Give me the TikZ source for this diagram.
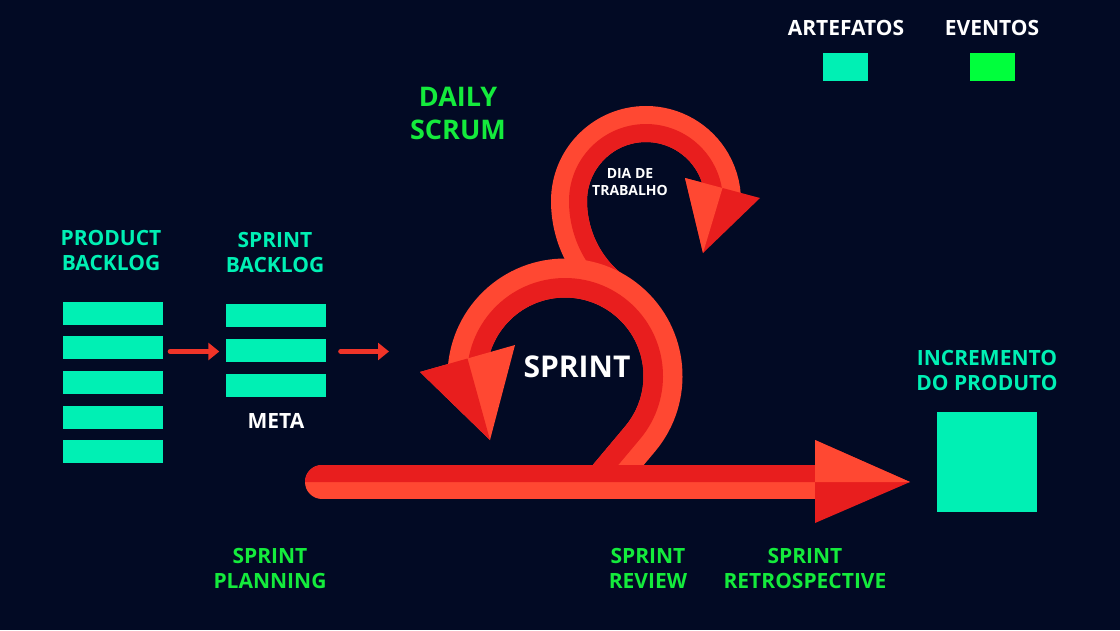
\documentclass[tikz,border=0pt]{standalone}
\usepackage{fontspec}
\setmainfont{Open Sans}
\usepackage{tikz}
\usetikzlibrary{calc,arrows.meta,positioning}
\definecolor{bgnavy}{RGB}{2,10,36}
\definecolor{artteal}{RGB}{0,240,180}
\definecolor{evgreen}{RGB}{20,235,60}
\definecolor{evbox}{RGB}{0,255,60}
\definecolor{redlight}{RGB}{255,72,50}
\definecolor{reddark}{RGB}{232,30,30}
\definecolor{redarrow}{RGB}{240,52,40}

\begin{document}
\begin{tikzpicture}[x=1pt,y=1pt,yscale=-1,
      lbl/.style={font=\fontsize{21}{25}\selectfont\bfseries,align=center,inner sep=0pt},
      biglbl/.style={lbl,font=\fontsize{27}{33}\selectfont\bfseries},
      smalllbl/.style={lbl,font=\fontsize{14}{17.5}\selectfont\bfseries},
      bar/.style={fill=artteal,minimum width=100pt,minimum height=23pt,inner sep=0pt},
      swatch/.style={minimum width=45pt,minimum height=28pt,inner sep=0pt},
      flow/.style={redarrow,line width=5pt,line cap=round,-{Triangle[length=11pt,width=17pt]}}]
    \useasboundingbox (0,0) rectangle (1120,630);
    \fill[bgnavy] (0,0) rectangle (1120,630);
    % legend
    \node[lbl,text=white,font=\fontsize{21}{25}\selectfont\bfseries] (artlbl) at (846,28) {ARTEFATOS};
    \node[lbl,text=white,font=\fontsize{21}{25}\selectfont\bfseries] (evlbl) at (992,28) {EVENTOS};
    \node[swatch,fill=artteal] (artbox) at (845.5,67) {};
    \node[swatch,fill=evbox]   (evbox) at (992.5,67) {};
    % backlogs
    \node[lbl,text=artteal] (pblbl) at (111,250) {PRODUCT\\BACKLOG};
    \foreach \i/\y in {1/313,2/347.5,3/382.5,4/417,5/451.5}
      \node[bar] (pb\i) at (113,\y) {};
    \node[lbl,text=artteal] (sblbl) at (275,252) {SPRINT\\BACKLOG};
    \foreach \i/\y in {1/315.5,2/350.5,3/385}
      \node[bar] (sb\i) at (275.5,\y) {};
    \node[lbl,text=white] (meta) at (276,421) {META};
    \coordinate (entry) at (389,351.5);
    \draw[flow,shorten <=7pt,shorten >=6pt] (pb3.east |- entry) -- (sb2.west |- entry);
    \draw[flow,shorten <=15pt] (sb2.east |- entry) -- (entry);
    % daily scrum loop (drawn under the sprint loop)
    \draw[redlight,line width=36pt] ($(681,201)+(123.5:112)$)
      arc[start angle=123.5,end angle=180,radius=112]
      arc[start angle=180,end angle=365,radius=77];
    \draw[reddark,line width=18pt] ($(681,201)+(123.5:103)$)
      arc[start angle=123.5,end angle=180,radius=103]
      arc[start angle=180,end angle=365,radius=68];
    \fill[reddark] (685,178) -- (760,198) -- (703,253) -- cycle;
    \fill[redlight] (685,178) -- (722.5,188) -- (703,253) -- cycle;
    % sprint loop
    \draw[redlight,line width=39pt] ($(565,376)+(40:98)+(130:56)$) -- ($(565,376)+(40:98)$)
      arc[start angle=40,end angle=-185,radius=98];
    \draw[reddark,line width=19.5pt] ($(565,376)+(40:88.25)+(130:56)$) -- ($(565,376)+(40:88.25)$)
      arc[start angle=40,end angle=-185,radius=88.25];
    \fill[redlight] (420,372) -- (515,345) -- (490,440) -- cycle;
    \fill[reddark] (420,372) -- (467.5,358.5) -- (490,440) -- cycle;
    % main arrow
    \draw[redlight,line width=34pt,line cap=round] (322,482) -- (816,482);
    \fill[reddark] (816,465) -- (322,465) arc[start angle=-90,end angle=-180,radius=17] -- (816,482) -- cycle;
    \fill[reddark] (815,440) -- (910,482) -- (815,523) -- cycle;
    \fill[redlight] (815,440) -- (910,482) -- (815,482) -- cycle;
    % labels on the cycle
    \node[biglbl,text=evgreen] (daily) at (458,113.5) {DAILY\\SCRUM};
    \node[smalllbl,text=white] (dia) at (630,182) {DIA DE\\TRABALHO};
    \node[lbl,text=white,font=\fontsize{30}{36}\selectfont\bfseries] (sprint) at (577,367) {SPRINT};
    % increment
    \node[lbl,text=artteal] (inclbl) at (987,370) {INCREMENTO\\DO PRODUTO};
    \node[fill=artteal,minimum size=100pt,inner sep=0pt] (incbox) at (987,462) {};
    % events
    \node[lbl,text=evgreen] (planning) at (270,568.5) {SPRINT\\PLANNING};
    \node[lbl,text=evgreen] (review) at (648,568.5) {SPRINT\\REVIEW};
    \node[lbl,text=evgreen] (retro) at (805,568.5) {SPRINT\\RETROSPECTIVE};
  \end{tikzpicture}
\end{document}
